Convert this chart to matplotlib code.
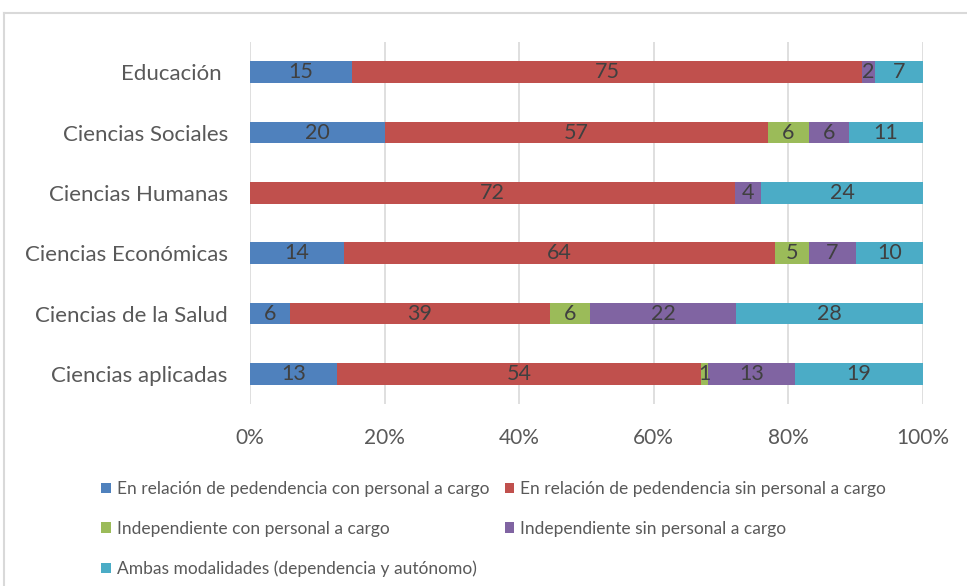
import matplotlib
matplotlib.use("Agg")
import matplotlib.pyplot as plt
from matplotlib.patches import Patch
from matplotlib.lines import Line2D
import numpy as np

plt.rcParams['font.family'] = ['Lato', 'DejaVu Sans']

categories = ["Educación ", "Ciencias Sociales", "Ciencias Humanas",
              "Ciencias Económicas", "Ciencias de la Salud", "Ciencias aplicadas"]
series_names = ["En relación de pedendencia con personal a cargo",
                "En relación de pedendencia sin personal a cargo",
                "Independiente con personal a cargo",
                "Independiente sin personal a cargo",
                "Ambas modalidades (dependencia y autónomo)"]
dep_con = [15, 20, 0, 14, 6, 13]
dep_sin = [75, 57, 72, 64, 39, 54]
ind_con = [0, 6, 0, 5, 6, 1]
ind_sin = [2, 6, 4, 7, 22, 13]
ambas = [7, 11, 24, 10, 28, 19]
colors = ["#4F81BD", "#C0504D", "#9BBB59", "#8064A2", "#4BACC6"]
xticks = [0, 20, 40, 60, 80, 100]
xticklabels = ["0%", "20%", "40%", "60%", "80%", "100%"]

series = [dep_con, dep_sin, ind_con, ind_sin, ambas]
data = np.array(series, dtype=float)
totals = data.sum(axis=0)
pct = data / totals * 100

fig = plt.figure(figsize=(9.67, 5.86), dpi=100)
ax = fig.add_axes([250/967, 1-404/586, 673/967, (404-42)/586])

y = np.arange(len(categories))
left = np.zeros(len(categories))
for i, (name, col) in enumerate(zip(series_names, colors)):
    bars = ax.barh(y, pct[i], left=left, height=0.36, color=col, label=name, zorder=3)
    for j, b in enumerate(bars):
        v = series[i][j]
        if v > 0:
            ax.text(left[j] + pct[i][j] / 2, y[j], f"{v:g}", ha='center', va='center',
                    fontsize=15.5, color='#404040', zorder=4)
    left = left + pct[i]

ax.set_xlim(0, 100)
ax.set_ylim(len(categories) - 0.5, -0.5)
ax.set_yticks(y)
ax.set_yticklabels(categories, fontsize=16, color='#595959')
ax.set_xticks(xticks)
ax.set_xticklabels(xticklabels, fontsize=15, color='#595959')
ax.tick_params(axis='both', length=0)
ax.tick_params(axis='y', pad=16)
ax.tick_params(axis='x', pad=17)
ax.grid(axis='x', color='#D9D9D9', linewidth=1.2, zorder=0)
for s in ax.spines.values():
    s.set_visible(False)

order = [0, 2, 4, 1, 3]
handles = [Patch(facecolor=colors[k], edgecolor='none') for k in order]
labels = [series_names[k] for k in order]
leg = fig.legend(handles, labels, loc='upper left', bbox_to_anchor=(101/967, 1-481/586),
                 ncol=2, frameon=False, fontsize=12.5, labelcolor='#595959',
                 handlelength=0.55, handleheight=0.55, handletextpad=0.35,
                 columnspacing=0.9, labelspacing=1.37, borderpad=0, borderaxespad=0)

# outer frame
fig.add_artist(Line2D([4/967, 4/967], [0, 1-13/586], transform=fig.transFigure,
                      color='#D9D9D9', linewidth=1.5))
fig.add_artist(Line2D([4/967, 1], [1-13/586, 1-13/586], transform=fig.transFigure,
                      color='#D9D9D9', linewidth=1.5))

fig.savefig("out.png", dpi=100)
